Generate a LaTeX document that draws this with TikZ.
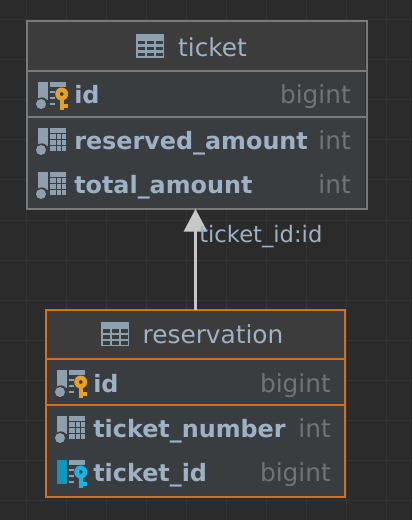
\documentclass[tikz,border=0pt]{standalone}
\usepackage{fontspec}
\setmainfont{DejaVu Sans}
\usetikzlibrary{arrows.meta}
\definecolor{bgc}{HTML}{2B2B2B}
\definecolor{gridc}{HTML}{343434}
\definecolor{headc}{HTML}{3C3C3C}
\definecolor{rowc}{HTML}{3A3D40}
\definecolor{grayb}{HTML}{77797A}
\definecolor{orangeb}{HTML}{D2701C}
\definecolor{txtc}{HTML}{9FB1C4}
\definecolor{typec}{HTML}{6F7479}
\definecolor{iconc}{HTML}{8E9FAD}
\definecolor{keyc}{HTML}{E8A024}
\definecolor{fkc}{HTML}{16B5E6}
\definecolor{fkbar}{HTML}{0E97BB}
\definecolor{arrowc}{HTML}{C8C8C8}
\tikzset{
  x=0.75pt,y=-0.75pt,
  tablebox/.style={draw,line width=1.5pt,inner sep=0pt,outer sep=0pt},
  titletext/.style={anchor=base,inner sep=0pt,text=txtc,font=\fontsize{18.6}{20}\selectfont},
  coltext/.style={anchor=base west,inner sep=0pt,text=txtc,font=\fontsize{17.9}{20}\selectfont\bfseries},
  typetext/.style={anchor=base east,inner sep=0pt,text=typec,font=\fontsize{18.6}{20}\selectfont},
  edgelabel/.style={anchor=base west,inner sep=0pt,text=txtc,font=\fontsize{17}{20}\selectfont},
  connector/.style={draw=arrowc,line width=1.6pt,-{Triangle[length=17pt,width=17.5pt,fill=arrowc]}},
}
% table glyph, top-left corner at (#1,#2)
\newcommand{\tableglyph}[2]{%
  \begin{scope}[shift={(#1,#2)}]
    \fill[iconc] (0,0) rectangle (28,24);
    \foreach \yy in {7,13,19}{\foreach \xx in {2,11,20}{\fill[rowc] (\xx,\yy) rectangle (\xx+6.5,\yy+3.5);}}
  \end{scope}}
% column glyph: bar + dot
\newcommand{\colbar}[1]{%
  \fill[iconc] (2,0) rectangle (12,18);
  \fill[rowc] (5.8,22) circle (6.6);
  \fill[iconc] (5,22) circle (5);}
\newcommand{\colplain}[2]{%
  \begin{scope}[shift={(#1,#2)}]
    \colbar{}
    \fill[iconc] (14,0) rectangle (30,5);
    \foreach \yy in {6,12,18}{%
      \fill[iconc] (14,\yy) rectangle (20,\yy+5);
      \fill[iconc] (21,\yy) rectangle (25,\yy+5);
      \fill[iconc] (26,\yy) rectangle (30,\yy+5);}
  \end{scope}}
\newcommand{\keyglyph}[1]{%
  \fill[#1,even odd rule] (25.7,12) circle (6.5) (25.7,12) circle (2);
  \fill[#1] (23.7,17) rectangle (28,28);
  \fill[#1] (28,22) rectangle (32,26);}
\newcommand{\keydash}{%
  \fill[iconc] (14,0) rectangle (30,5);
  \fill[iconc] (14,9) rectangle (19,11);
  \fill[iconc] (14,15) rectangle (19,17);
  \fill[iconc] (14,21) rectangle (19,23);}
\newcommand{\colkey}[3]{%
  \begin{scope}[shift={(#1,#2)}]
    \colbar{}\keydash
    \keyglyph{#3}
  \end{scope}}
\newcommand{\colfk}[2]{%
  \begin{scope}[shift={(#1,#2)}]
    \fill[fkbar] (2,0) rectangle (12,24);
    \keydash
    \keyglyph{fkc}
  \end{scope}}
\begin{document}
\begin{tikzpicture}
\useasboundingbox (0,0) rectangle (412,520);
\fill[bgc] (0,0) rectangle (412,520);
\foreach \gx in {26,66,...,410}{\draw[gridc,line width=0.75pt] (\gx,0) -- (\gx,520);}
\foreach \gy in {20,60,...,519}{\draw[gridc,line width=0.75pt] (0,\gy) -- (412,\gy);}
% ticket table
\fill[rowc] (27,21) rectangle (365,208);
\fill[headc] (27,21) rectangle (365,70);
\node[tablebox,draw=grayb,minimum width=255pt,minimum height=141pt,anchor=north west] (ticket) at (27,21) {};
\draw[grayb,line width=1.5pt] (ticket.west |- 0,71) -- (ticket.east |- 0,71);
\draw[grayb,line width=1.5pt] (ticket.west |- 0,117) -- (ticket.east |- 0,117);
\tableglyph{136}{34}
\node[titletext] (ttitle) at (212.5,57) {ticket};
\colkey{36}{82}{keyc}
\node[coltext] (tid) at (74,104) {id};
\node[typetext] (tidt) at (351,104) {bigint};
\colplain{36}{128}
\node[coltext] (tres) at (74,150) {reserved\_amount};
\node[typetext] (trest) at (351,150) {int};
\colplain{36}{172}
\node[coltext] (ttot) at (74,194) {total\_amount};
\node[typetext] (ttott) at (351,194) {int};
% reservation table
\fill[rowc] (46,310) rectangle (345,496);
\fill[headc] (46,310) rectangle (345,358);
\node[tablebox,draw=orangeb,minimum width=224.25pt,minimum height=140.25pt,anchor=north west] (res) at (46,310) {};
\draw[orangeb,line width=1.5pt] (res.west |- 0,359) -- (res.east |- 0,359);
\draw[orangeb,line width=1.5pt] (res.west |- 0,405) -- (res.east |- 0,405);
\tableglyph{101}{322}
\node[titletext] (rtitle) at (213,343) {reservation};
\colkey{55}{370}{keyc}
\node[coltext] (rid) at (93,392) {id};
\node[typetext] (ridt) at (331,392) {bigint};
\colplain{55}{416}
\node[coltext] (rnum) at (93,437) {ticket\_number};
\node[typetext] (rnumt) at (331,437) {int};
\colfk{55}{460}
\node[coltext] (rfk) at (93,481) {ticket\_id};
\node[typetext] (rfkt) at (331,481) {bigint};
% connector
\coordinate (ax) at (195.5,260);
\draw[connector] (res.north -| ax) -- (ticket.south -| ax);
\node[edgelabel] (lbl) at (199,242) {ticket\_id:id};
\end{tikzpicture}
\end{document}
